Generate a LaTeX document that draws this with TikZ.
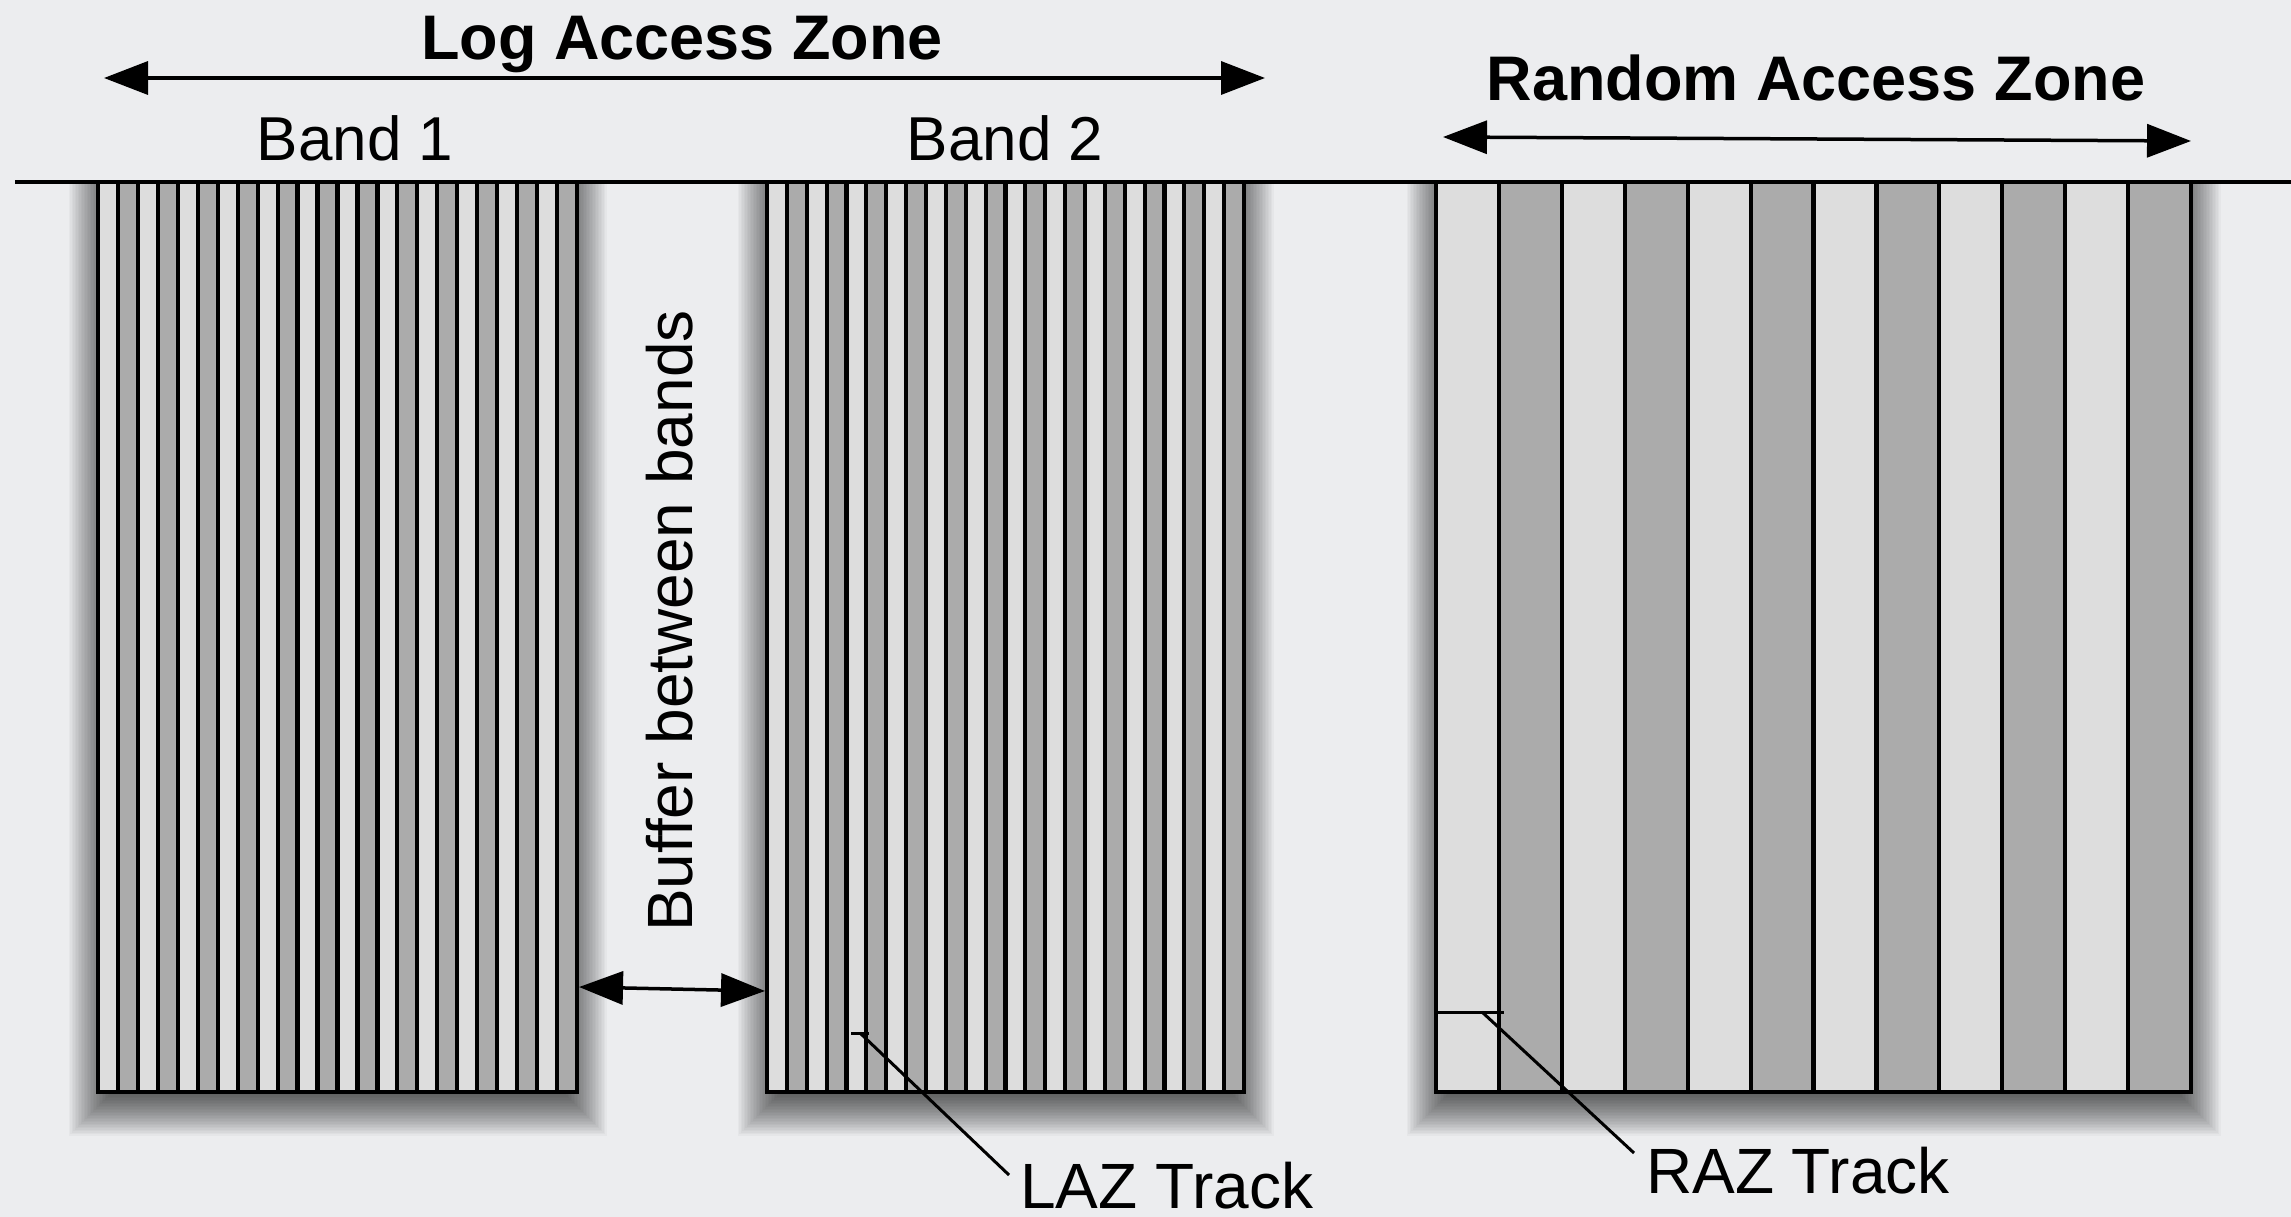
\documentclass[tikz,border=0pt]{standalone}
\usepackage{fontspec}
\setmainfont{Liberation Sans}
\usetikzlibrary{arrows.meta}
\definecolor{bg}{RGB}{236,237,239}
\definecolor{lightstripe}{RGB}{221,221,221}
\definecolor{darkstripe}{RGB}{171,171,171}
\newcommand\dropshade[4]{%
  \foreach \i in {0,...,29}{%
    \pgfmathsetmacro\ee{-14+\i*1.5}
    \fill[black,opacity=0.026] ({#1-\ee},{#2-\ee}) rectangle ({#3+\ee},{#4+14+\ee});
  }}
\newcommand\stripes[5]{% x0 y0 x1 y1 n
  \foreach \k in {1,...,#5}{%
    \pgfmathsetmacro\xa{#1+(\k-1)*(#3-#1)/#5}
    \pgfmathsetmacro\xb{#1+\k*(#3-#1)/#5}
    \ifodd\k \def\sc{lightstripe}\else\def\sc{darkstripe}\fi
    \filldraw[fill=\sc,draw=black,line width=4.2] (\xa,#2) rectangle (\xb,#4);
  }}
\begin{document}
\begin{tikzpicture}[x=1pt,y=-1pt,
  bandbox/.style={draw=black,line width=4.5,inner sep=0,outer sep=0,anchor=north west},
  zonearrow/.style={{Triangle[length=44pt,width=33pt]}-{Triangle[length=44pt,width=33pt]},line width=3.5},
  ptr/.style={line width=3},
  title/.style={font=\fontsize{63}{70}\selectfont\bfseries,inner sep=0,anchor=base},
  lbl/.style={font=\fontsize{64}{70}\selectfont,inner sep=0},
  bandlbl/.style={font=\fontsize{62}{70}\selectfont,inner sep=0,anchor=base}]
\fill[bg] (0,0) rectangle (2291,1217);
\useasboundingbox (0,0) rectangle (2291,1217);

% shadows
\begin{scope}
\clip (0,183) rectangle (2291,1217);
\dropshade{98}{182}{577}{1092}
\dropshade{767}{182}{1244}{1092}
\dropshade{1436}{182}{2191}{1092}
\end{scope}

% stripes
\stripes{98}{182}{577}{1092}{24}
\stripes{767}{182}{1244}{1092}{24}
\stripes{1436}{182}{2191}{1092}{12}

% band outlines
\node[bandbox,minimum width=479,minimum height=910] (band1) at (98,182) {};
\node[bandbox,minimum width=477,minimum height=910] (band2) at (767,182) {};
\node[bandbox,minimum width=755,minimum height=910] (raz) at (1436,182) {};

% top line
\coordinate (topL) at (15,182);
\coordinate (topR) at (2291,182);
\draw[line width=4] (topL) -- (topR);

% titles
\node[title] (laztitle) at (682,60) {Log Access Zone};
\node[title] (raztitle) at (1816,101) {Random Access Zone};
\node[bandlbl] (b1) at (355,161) {Band 1};
\node[bandlbl] (b2) at (1005,161) {Band 2};

% zone arrows
\coordinate (lazL) at (104,78);
\coordinate (lazR) at (1265,78);
\draw[zonearrow] (lazL) -- (lazR);
\coordinate (razL) at (1443,137);
\coordinate (razR) at (2191,141);
\draw[zonearrow] (razL) -- (razR);

% buffer
\coordinate (bufL) at (579,987);
\coordinate (bufR) at (765,991);
\draw[zonearrow] (bufL) -- (bufR);
\node[lbl,anchor=base,rotate=90] (buf) at (692,621) {Buffer between bands};

% LAZ track pointer
\coordinate (lazt1) at (851,1033);
\coordinate (lazt2) at (869,1033);
\coordinate (lazp) at (860,1033);
\coordinate (lazq) at (1009,1175);
\draw[ptr] (lazt1) -- (lazt2);
\draw[ptr] (lazp) -- (lazq);
\node[lbl,anchor=base west] (laztrack) at (1020,1208) {LAZ Track};

% RAZ track pointer
\coordinate (razt1) at (1436,1012);
\coordinate (razt2) at (1504,1012);
\coordinate (razp) at (1482,1012);
\coordinate (razq) at (1634,1153);
\draw[ptr] (razt1) -- (razt2);
\draw[ptr] (razp) -- (razq);
\node[lbl,anchor=base west] (raztrack) at (1646,1193) {RAZ Track};
\end{tikzpicture}
\end{document}
